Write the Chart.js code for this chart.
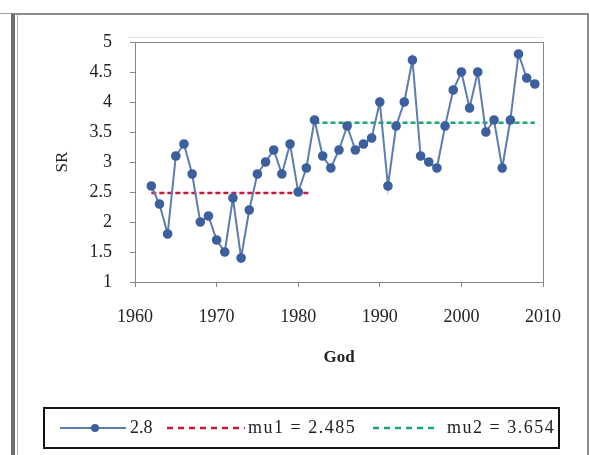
<!DOCTYPE html>
<html>
<head>
<meta charset="utf-8">
<script src="https://cdn.jsdelivr.net/npm/chart.js@4"></script>
<style>
  body { margin: 0; background: #fff; }
  #wrap { position: relative; width: 590px; height: 455px; overflow: hidden; }
  #chartCanvas { position: absolute; left: 0; top: 0; }
  .frame { position: absolute; left: 11px; top: 13px; width: 572px; height: 460px;
           border-left: 4px solid #6e6e6e; border-top: 2px solid #8c8c8c; border-right: 2px solid #8c8c8c; }
  .frame2 { position: absolute; left: 17px; top: 15px; width: 1px; height: 450px; background: #b4b4b4; }
  .stub { position: absolute; left: 0; top: 13px; width: 11px; height: 1px; background: #a0a0a0; }
  #legend { position: absolute; left: 43px; top: 407px; width: 517px; height: 42px;
            box-sizing: border-box; border: 2px solid #111; }
  .lg { position: absolute; font-family: "Liberation Serif", serif; font-size: 18px; color: #222;
        top: 416px; line-height: 22px; white-space: pre; }
  svg { position: absolute; left: 0; top: 0; }
</style>
</head>
<body>
<div id="wrap">
  <canvas id="chartCanvas" width="590" height="455"></canvas>
  <div class="stub"></div>
  <div class="frame"></div>
  <div class="frame2"></div>
  <div id="legend"></div>
  <svg width="590" height="455">
    <line x1="60" y1="428" x2="126" y2="428" stroke="#5b7db0" stroke-width="2"/>
    <circle cx="95" cy="428" r="4" fill="#3d5f9e"/>
    <line x1="167" y1="428" x2="245" y2="428" stroke="#c41a3d" stroke-width="2.5" stroke-dasharray="6 5"/>
    <line x1="373" y1="428" x2="435" y2="428" stroke="#17a870" stroke-width="2.5" stroke-dasharray="6 5"/>
  </svg>
  <span class="lg" style="left:130px">2.8</span>
  <span class="lg" style="left:248px; letter-spacing:1.5px">mu1 = 2.485</span>
  <span class="lg" style="left:447px; letter-spacing:1.5px">mu2 = 3.654</span>
</div>
<script>
// data
const years = [1962, 1963, 1964, 1965, 1966, 1967, 1968, 1969, 1970, 1971,
               1972, 1973, 1974, 1975, 1976, 1977, 1978, 1979, 1980, 1981,
               1982, 1983, 1984, 1985, 1986, 1987, 1988, 1989, 1990, 1991,
               1992, 1993, 1994, 1995, 1996, 1997, 1998, 1999, 2000, 2001,
               2002, 2003, 2004, 2005, 2006, 2007, 2008, 2009];
const srValues = [2.6, 2.3, 1.8, 3.1, 3.3, 2.8, 2.0, 2.1, 1.7, 1.5,
                  2.4, 1.4, 2.2, 2.8, 3.0, 3.2, 2.8, 3.3, 2.5, 2.9,
                  3.7, 3.1, 2.9, 3.2, 3.6, 3.2, 3.3, 3.4, 4.0, 2.6,
                  3.6, 4.0, 4.7, 3.1, 3.0, 2.9, 3.6, 4.2, 4.5, 3.9,
                  4.5, 3.5, 3.7, 2.9, 3.7, 4.8, 4.4, 4.3];
const mu1Years = [1962, 1981.5];
const mu1 = 2.485;
const mu2Years = [1982, 2009];
const mu2 = 3.654;
const xTicks = [1960, 1970, 1980, 1990, 2000, 2010];
const yTicks = [1, 1.5, 2, 2.5, 3, 3.5, 4, 4.5, 5];

const seriesPts = years.map((y, i) => ({ x: y, y: srValues[i] }));
const mu1Pts = mu1Years.map(y => ({ x: y, y: mu1 }));
const mu2Pts = mu2Years.map(y => ({ x: y, y: mu2 }));

// grey box round the plot area
const plotBox = {
  id: "plotBox",
  afterDraw(chart) {
    const { ctx, chartArea: a } = chart;
    ctx.save();
    ctx.strokeStyle = "#868686";
    ctx.lineWidth = 1;
    ctx.strokeRect(a.left + 0.5, a.top + 0.5, a.right - a.left, a.bottom - a.top);
    ctx.strokeStyle = "#e2e2e2";
    ctx.beginPath();
    ctx.moveTo(a.left - 7, a.top - 4.5);
    ctx.lineTo(a.right, a.top - 4.5);
    ctx.stroke();
    ctx.restore();
  }
};

const serif = "'Liberation Serif', 'Times New Roman', serif";
const ctx = document.getElementById("chartCanvas").getContext("2d");
new Chart(ctx, {
  type: "line",
  data: {
    datasets: [
      {
        label: "2.8",
        data: seriesPts,
        borderColor: "#5b7db0",
        borderWidth: 2,
        pointRadius: 3.8,
        pointBackgroundColor: "#3d5f9e",
        pointBorderColor: "#3d5f9e",
        tension: 0
      },
      {
        label: "mu1 = 2.485",
        data: mu1Pts,
        borderColor: "#c41a3d",
        borderWidth: 2.5,
        borderDash: [5, 3],
        pointRadius: 0
      },
      {
        label: "mu2 = 3.654",
        data: mu2Pts,
        borderColor: "#17a870",
        borderWidth: 2.5,
        borderDash: [5, 3],
        pointRadius: 0
      }
    ]
  },
  options: {
    responsive: false,
    animation: false,
    layout: { padding: { left: 0, top: 42, right: 47, bottom: 0 } },
    plugins: { legend: { display: false }, tooltip: { enabled: false } },
    scales: {
      x: {
        type: "linear",
        min: 1960,
        max: 2010,
        afterBuildTicks: s => { s.ticks = xTicks.map(v => ({ value: v })); },
        afterFit: s => { s.height = 173; },
        grid: { drawOnChartArea: false, tickLength: 5, color: "#868686" },
        border: { color: "#868686" },
        ticks: { padding: 19, color: "#222", font: { family: serif, size: 18 }, callback: v => String(v) },
        title: { display: true, text: "God", color: "#222", padding: { bottom: 87 },
                 font: { family: serif, size: 17, weight: "bold" } }
      },
      y: {
        min: 1,
        max: 5,
        afterBuildTicks: s => { s.ticks = yTicks.map(v => ({ value: v })); },
        afterFit: s => { s.width = 135; },
        grid: { drawOnChartArea: false, tickLength: 5, color: "#868686" },
        border: { color: "#868686" },
        ticks: { padding: 18, color: "#222", font: { family: serif, size: 18 }, callback: v => String(v) },
        title: { display: true, text: "SR", color: "#222", padding: { top: 52 },
                 font: { family: serif, size: 17 } }
      }
    }
  },
  plugins: [plotBox]
});
</script>
</body>
</html>
